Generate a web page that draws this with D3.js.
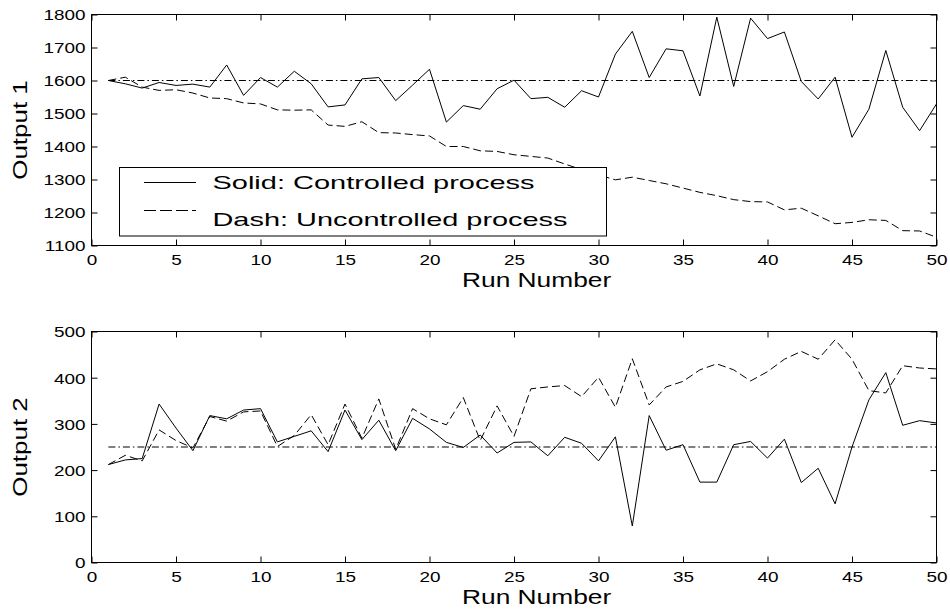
<!DOCTYPE html>
<html>
<head>
<meta charset="utf-8">
<script src="https://cdn.jsdelivr.net/npm/d3@7"></script>
<style>
body { margin: 0; background: #fff; }
text { font-family: "Liberation Sans", Arial, Helvetica, sans-serif; fill: #000; }
</style>
</head>
<body>
<svg id="chart" width="950" height="612"></svg>
<script>
var runs = [1,2,3,4,5,6,7,8,9,10,11,12,13,14,15,16,17,18,19,20,21,22,23,24,25,
            26,27,28,29,30,31,32,33,34,35,36,37,38,39,40,41,42,43,44,45,46,47,48,49,50];

var out1Controlled = [1600,1590,1577,1594,1585,1589,1580,1647,1555,1609,
                      1580,1628,1590,1520,1526,1605,1609,1539,1586,1634,
                      1474,1524,1513,1575,1601,1545,1549,1519,1569,1550,
                      1680,1749,1609,1696,1690,1553,1792,1582,1789,1727,
                      1747,1597,1544,1610,1428,1513,1691,1519,1448,1529];

var out1Uncontrolled = [1600,1610,1580,1570,1572,1562,1547,1545,1532,1529,
                        1511,1510,1511,1465,1461,1475,1442,1441,1436,1432,
                        1400,1400,1387,1385,1375,1370,1365,1347,1330,1314,
                        1299,1307,1297,1287,1274,1261,1251,1239,1233,1232,
                        1208,1213,1190,1166,1170,1178,1176,1145,1144,1125];

var out2Controlled = [212,222,225,343,291,242,318,311,330,333,
                      261,273,285,240,330,266,308,242,312,289,
                      260,249,276,237,260,261,231,271,258,220,
                      272,79,318,243,255,174,174,255,262,226,
                      267,173,204,127,250,352,411,297,307,302];

var out2Uncontrolled = [212,232,220,287,264,248,316,306,326,328,
                        251,275,320,255,343,269,354,245,333,311,
                        298,357,264,339,273,376,380,383,359,401,
                        336,441,341,380,392,417,430,417,393,413,
                        440,457,440,482,440,372,367,426,421,419];

var out1Target = 1600;
var out2Target = 250;

var xTicks = [0,5,10,15,20,25,30,35,40,45,50];
var y1Ticks = [1100,1200,1300,1400,1500,1600,1700,1800];
var y2Ticks = [0,100,200,300,400,500];
var legendLabels = ["Solid: Controlled process", "Dash: Uncontrolled process"];

var left = 91.5, right = 936.5;
var svg = d3.select("#chart");
var stretch = 1.35;

// the picture's text is wider than the font, so stretch it horizontally
function widen(sel, k) {
  sel.each(function() {
    var w = this.getComputedTextLength();
    d3.select(this).attr("textLength", w * k).attr("lengthAdjust", "spacingAndGlyphs");
  });
}

var x = d3.scaleLinear().domain([0, 50]).range([0, right - left]);

var panels = [
  {top: 14.5, height: 231, domain: [1100, 1800], ticks: y1Ticks, label: "Output 1",
   solid: out1Controlled, dash: out1Uncontrolled, target: out1Target},
  {top: 331.5, height: 231, domain: [0, 500], ticks: y2Ticks, label: "Output 2",
   solid: out2Controlled, dash: out2Uncontrolled, target: out2Target}
];

panels.forEach(function(p, pi) {
  var w = right - left, h = p.height;
  var y = d3.scaleLinear().domain(p.domain).range([h, 0]);
  var g = svg.append("g").attr("transform", "translate(" + left + "," + p.top + ")");

  var line = d3.line()
    .x(function(d, i) { return x(runs[i]); })
    .y(function(d) { return y(d); });

  // target line
  g.append("line")
    .attr("x1", x(runs[0])).attr("x2", x(runs[runs.length - 1]))
    .attr("y1", y(p.target)).attr("y2", y(p.target))
    .attr("stroke", "#000").attr("stroke-width", 1)
    .attr("stroke-dasharray", "7,3,1.5,3");

  g.append("path").datum(p.dash)
    .attr("d", line).attr("fill", "none")
    .attr("stroke", "#000").attr("stroke-width", 1)
    .attr("stroke-dasharray", "8,4");

  g.append("path").datum(p.solid)
    .attr("d", line).attr("fill", "none")
    .attr("stroke", "#000").attr("stroke-width", 1);

  // axes, ticks pointing inward on all sides
  var ax = g.append("g").attr("transform", "translate(0," + h + ")")
    .call(d3.axisBottom(x).tickValues(xTicks).tickSize(-6).tickSizeOuter(0).tickPadding(10));
  g.append("g")
    .call(d3.axisTop(x).tickValues(xTicks).tickSize(-6).tickSizeOuter(0).tickFormat(""));
  var ay = g.append("g")
    .call(d3.axisLeft(y).tickValues(p.ticks).tickFormat(d3.format("d"))
      .tickSize(-6).tickSizeOuter(0).tickPadding(6));
  g.append("g").attr("transform", "translate(" + w + ",0)")
    .call(d3.axisRight(y).tickValues(p.ticks).tickSize(-6).tickSizeOuter(0).tickFormat(""));

  g.selectAll(".domain").remove();
  g.selectAll(".tick line").attr("stroke", "#000");

  ax.selectAll("text").attr("font-size", 14).attr("font-family", null).call(widen, stretch);
  ay.selectAll("text").attr("font-size", 14).attr("font-family", null)
    .attr("dy", "0.38em").call(widen, stretch);

  g.append("rect").attr("width", w).attr("height", h)
    .attr("fill", "none").attr("stroke", "#000").attr("stroke-width", 1);

  g.append("text")
    .attr("x", 370.5).attr("y", h + 41)
    .attr("font-size", 19.5)
    .text("Run Number")
    .call(widen, stretch);

  g.append("text")
    .attr("transform", "translate(" + (27 - left) + "," + (h / 2) + ") rotate(-90)")
    .attr("text-anchor", "middle")
    .attr("font-size", 19.5)
    .text(p.label)
    .call(widen, 1.33);

  if (pi === 0) {
    var lg = svg.append("g");
    lg.append("rect")
      .attr("x", 119.5).attr("y", 167.5).attr("width", 487).attr("height", 68.5)
      .attr("fill", "#fff").attr("stroke", "#000").attr("stroke-width", 1);
    lg.append("line").attr("x1", 144).attr("x2", 196).attr("y1", 182.5).attr("y2", 182.5)
      .attr("stroke", "#000").attr("stroke-width", 1);
    lg.append("line").attr("x1", 144).attr("x2", 196).attr("y1", 210.5).attr("y2", 210.5)
      .attr("stroke", "#000").attr("stroke-width", 1).attr("stroke-dasharray", "12,4");
    var lens = [322, 355];
    lg.selectAll("text.leg").data(legendLabels).enter().append("text")
      .attr("class", "leg")
      .attr("x", 212.5)
      .attr("y", function(d, i) { return i === 0 ? 188.5 : 225.5; })
      .attr("font-size", 19)
      .attr("textLength", function(d, i) { return lens[i]; })
      .attr("lengthAdjust", "spacingAndGlyphs")
      .text(function(d) { return d; });
  }
});
</script>
</body>
</html>
